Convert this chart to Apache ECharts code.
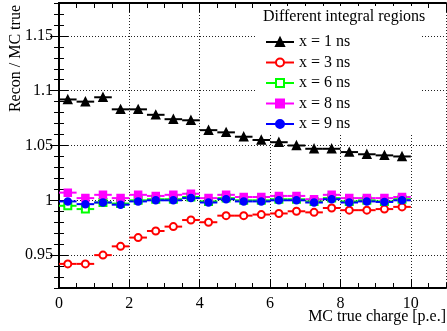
<!DOCTYPE html>
<html>
<head>
<meta charset="utf-8">
<style>
  html, body { margin: 0; padding: 0; background: #fff; }
  #chart { width: 447px; height: 331px; }
</style>
<script src="https://cdn.jsdelivr.net/npm/echarts@6/dist/echarts.min.js"></script>
</head>
<body>
<div id="chart"></div>
<script>
// Bin centres of the MC true charge histogram (bin width 0.5 p.e.)
const binCenters = [0.25, 0.75, 1.25, 1.75, 2.25, 2.75, 3.25, 3.75, 4.25, 4.75,
                    5.25, 5.75, 6.25, 6.75, 7.25, 7.75, 8.25, 8.75, 9.25, 9.75];
const binHalfWidth = 0.25;

// Recon / MC true ratio per integration window
const ratio1ns = [1.092, 1.090, 1.094, 1.083, 1.083, 1.078, 1.074, 1.073, 1.064, 1.062,
                  1.058, 1.055, 1.053, 1.050, 1.047, 1.047, 1.044, 1.042, 1.041, 1.040];
const ratio3ns = [0.942, 0.942, 0.950, 0.958, 0.966, 0.972, 0.976, 0.982, 0.980, 0.986,
                  0.986, 0.987, 0.988, 0.990, 0.989, 0.993, 0.991, 0.991, 0.992, 0.994];
const ratio6ns = [0.995, 0.992, 0.998, 0.997, 1.000, 1.001, 1.001, 1.003, 0.999, 1.002,
                  1.000, 1.000, 1.001, 1.001, 0.999, 1.002, 0.999, 1.000, 0.999, 1.001];
const ratio8ns = [1.007, 1.002, 1.005, 1.002, 1.005, 1.004, 1.005, 1.006, 1.002, 1.005,
                  1.003, 1.003, 1.004, 1.004, 1.001, 1.005, 1.002, 1.002, 1.002, 1.003];
const ratio9ns = [0.999, 0.9965, 0.998, 0.996, 0.999, 1.000, 1.000, 1.002, 0.998, 1.001,
                  0.999, 0.999, 1.000, 1.000, 0.998, 1.001, 0.998, 0.999, 0.9985, 1.000];

const yMajorTicks = [0.95, 1, 1.05, 1.1, 1.15];

const seriesDefs = [
  { name: 'x = 1 ns', values: ratio1ns, color: '#000000', symbol: 'triangle', size: 8 },
  { name: 'x = 3 ns', values: ratio3ns, color: '#ff0000', symbol: 'emptyCircle', size: 7 },
  { name: 'x = 6 ns', values: ratio6ns, color: '#00ff00', symbol: 'emptyRect', size: 7 },
  { name: 'x = 8 ns', values: ratio8ns, color: '#ff00ff', symbol: 'rect', size: 7 },
  { name: 'x = 9 ns', values: ratio9ns, color: '#0000ff', symbol: 'circle', size: 7 }
];

const FONT = 'Liberation Serif';
const X_MIN = 0, X_MAX = 11, Y_MIN = 0.92, Y_MAX = 1.18;

function frameAxis(extra) {
  return Object.assign({
    type: 'value',
    axisLine: { show: true, lineStyle: { color: '#000', width: 2 } },
    axisLabel: { show: false },
    splitLine: { show: false }
  }, extra);
}

const xAxes = [
  frameAxis({
    position: 'bottom', min: X_MIN, max: X_MAX, interval: 2,
    axisTick: { show: true, inside: true, length: 9, lineStyle: { color: '#000', width: 1 } },
    axisLabel: { show: true, showMaxLabel: false, margin: 8, color: '#000', fontFamily: FONT, fontSize: 16 },
    splitLine: { show: true, lineStyle: { color: '#222', width: 1, type: [1, 2] } }
  }),
  frameAxis({
    position: 'bottom', min: X_MIN, max: X_MAX, interval: 0.5,
    axisLine: { show: false },
    axisTick: { show: true, inside: true, length: 5, lineStyle: { color: '#000', width: 1 } }
  }),
  frameAxis({
    position: 'top', min: X_MIN, max: X_MAX, interval: 2,
    axisTick: { show: true, inside: true, length: 9, lineStyle: { color: '#000', width: 1 } }
  }),
  frameAxis({
    position: 'top', min: X_MIN, max: X_MAX, interval: 0.5,
    axisLine: { show: false },
    axisTick: { show: true, inside: true, length: 5, lineStyle: { color: '#000', width: 1 } }
  })
];

const yAxes = [
  frameAxis({
    position: 'left', min: Y_MIN, max: Y_MAX,
    axisTick: { show: true, inside: true, length: 9, customValues: yMajorTicks, lineStyle: { color: '#000', width: 1 } },
    axisLabel: { show: true, customValues: yMajorTicks, margin: 6, color: '#000', fontFamily: FONT, fontSize: 16 },
    splitLine: { show: true, lineStyle: { color: '#222', width: 1, type: [1, 2] } }
  }),
  frameAxis({
    position: 'left', min: Y_MIN, max: Y_MAX, interval: 0.01,
    axisLine: { show: false },
    axisTick: { show: true, inside: true, length: 5, lineStyle: { color: '#000', width: 1 } }
  }),
  frameAxis({
    position: 'right', min: Y_MIN, max: Y_MAX,
    axisTick: { show: true, inside: true, length: 9, customValues: yMajorTicks, lineStyle: { color: '#000', width: 1 } }
  }),
  frameAxis({
    position: 'right', min: Y_MIN, max: Y_MAX, interval: 0.01,
    axisLine: { show: false },
    axisTick: { show: true, inside: true, length: 5, lineStyle: { color: '#000', width: 1 } }
  })
];

// Horizontal bars spanning each bin, then markers at the bin centres
const series = [];
seriesDefs.forEach(function (def) {
  const pts = binCenters.map(function (x, i) { return [x, def.values[i]]; });
  series.push({
    type: 'custom',
    name: def.name + ' bins',
    xAxisIndex: 0, yAxisIndex: 0,
    silent: true,
    data: pts,
    renderItem: function (params, api) {
      const x = api.value(0), y = api.value(1);
      const p1 = api.coord([x - binHalfWidth, y]);
      const p2 = api.coord([x + binHalfWidth, y]);
      return {
        type: 'line',
        shape: { x1: p1[0], y1: p1[1], x2: p2[0], y2: p2[1] },
        style: { stroke: def.color, lineWidth: 2 }
      };
    }
  });
  series.push({
    type: 'line',
    name: def.name,
    xAxisIndex: 0, yAxisIndex: 0,
    data: pts,
    symbol: def.symbol,
    symbolSize: def.size,
    showAllSymbol: true,
    lineStyle: { width: 2, opacity: 0, color: def.color },
    itemStyle: { color: def.color, borderColor: def.color, borderWidth: 1.5 },
    silent: true,
    animation: false
  });
});

const chart = echarts.init(document.getElementById('chart'), null, { renderer: 'canvas' });
chart.setOption({
  animation: false,
  backgroundColor: '#fff',
  grid: { left: 59, right: 1, top: 3, bottom: 43, containLabel: false },
  xAxis: xAxes,
  yAxis: yAxes,
  legend: {
    orient: 'vertical',
    left: 265, top: 34,
    padding: 0,
    itemWidth: 28, itemHeight: 10, itemGap: 4.5,
    data: seriesDefs.map(function (d) { return d.name; }),
    lineStyle: { opacity: 1, width: 2 },
    textStyle: { color: '#000', fontFamily: FONT, fontSize: 16, lineHeight: 16 },
    selectedMode: false
  },
  graphic: [
    { type: 'rect', z: 3, shape: { x: 257, y: 6, width: 164, height: 128 }, style: { fill: '#fff' } },
    { type: 'text', z: 5, left: 263, top: 9,
      style: { text: 'Different integral regions', fill: '#000', font: '16px "Liberation Serif"' } },
    { type: 'text', z: 5, x: 16, y: 5, rotation: Math.PI / 2,
      style: { text: 'Recon / MC true', fill: '#000', font: '16px "Liberation Serif"', align: 'right', verticalAlign: 'middle' } },
    { type: 'text', z: 5, right: 1, top: 309,
      style: { text: 'MC true charge [p.e.]', fill: '#000', font: '16px "Liberation Serif"' } }
  ],
  series: series
});
</script>
</body>
</html>
